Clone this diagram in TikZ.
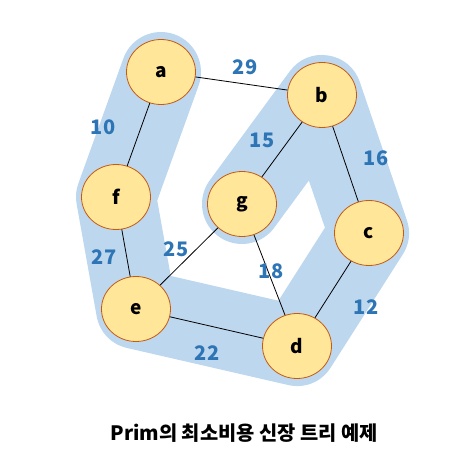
\documentclass[tikz,border=0pt]{standalone}
\usepackage{fontspec}
\setmainfont{Noto Sans CJK KR}
\usetikzlibrary{shapes.geometric,backgrounds}

\definecolor{bandblue}{HTML}{BDD7EE}
\definecolor{vfill}{HTML}{FFE699}
\definecolor{vline}{HTML}{C55A11}
\definecolor{wblue}{HTML}{2E75B6}

\tikzset{
  vertex/.style={ellipse, draw=vline, fill=vfill, line width=0.8pt,
    minimum width=69pt, minimum height=65pt, inner sep=0pt,
    font=\fontsize{19}{19}\selectfont\bfseries},
  weight/.style={text=wblue, inner sep=0pt, font=\fontsize{20}{20}\selectfont\bfseries},
  edge/.style={black, line width=0.8pt}
}

\begin{document}
\begin{tikzpicture}[x=1pt,y=-1pt]
  \useasboundingbox (0,0) rectangle (472,471);

  % Knoten
  \node[vertex] (a) at (161,72)  {a};
  \node[vertex] (b) at (322,95)  {b};
  \node[vertex] (c) at (369,233) {c};
  \node[vertex] (d) at (297,346) {d};
  \node[vertex] (e) at (136,309) {e};
  \node[vertex] (f) at (116,197) {f};
  \node[vertex] (g) at (242,204) {g};

  % Kanten
  \draw[edge] (a) -- (b);
  \draw[edge] (a) -- (f);
  \draw[edge] (f) -- (e);
  \draw[edge] (e) -- (g);
  \draw[edge] (e) -- (d);
  \draw[edge] (g) -- (b);
  \draw[edge] (g) -- (d);
  \draw[edge] (b) -- (c);
  \draw[edge] (c) -- (d);

  % Gewichte
  \node[weight] (w29) at (245,67)  {29};
  \node[weight] (w10) at (103,127) {10};
  \node[weight] (w15) at (262,140) {15};
  \node[weight] (w16) at (376,158) {16};
  \node[weight] (w27) at (104,257) {27};
  \node[weight] (w25) at (176,249) {25};
  \node[weight] (w18) at (271,271) {18};
  \node[weight] (w12) at (366,307) {12};
  \node[weight] (w22) at (207,353) {22};

  % Spannbaum (Hintergrund)
  \begin{scope}[on background layer]
    \draw[bandblue, line width=80pt, line join=round, line cap=round]
      (a.center) -- (f.center) -- (e.center) -- (d.center)
      -- (c.center) -- (b.center) -- (g.center);
  \end{scope}

  \node[font=\fontsize{19.8}{19.8}\selectfont\bfseries] (title) at (244,433)
    {Prim의 최소비용 신장 트리 예제};
\end{tikzpicture}
\end{document}
